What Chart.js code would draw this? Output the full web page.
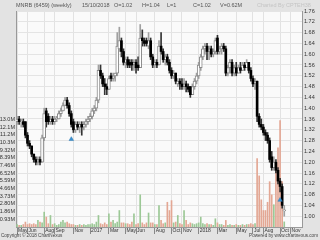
<!DOCTYPE html>
<html>
<head>
<meta charset="utf-8">
<script src="https://cdn.jsdelivr.net/npm/chart.js@4.4.1/dist/chart.umd.min.js"></script>
<style>
  body { margin: 0; background: #e3e3e3; }
  #wrap { position: relative; width: 320px; height: 240px; font-family: "Liberation Sans", Arial, sans-serif; }
  canvas { position: absolute; left: 0; top: 0; }
  .t { position: absolute; font-size: 5.5px; line-height: 1; color: #555; white-space: nowrap; }
  .f { position: absolute; font-size: 4.6px; line-height: 1; color: #444; white-space: nowrap; top: 234px; }
</style>
</head>
<body>
<div id="wrap">
  <canvas id="chart" width="320" height="240"></canvas>
  <div class="t" style="left:16px;top:3px">MNRB (6459) (weekly)</div>
  <div class="t" style="left:82px;top:3px">15/10/2018</div>
  <div class="t" style="left:114px;top:3px">O=1.02</div>
  <div class="t" style="left:142px;top:3px">H=1.04</div>
  <div class="t" style="left:167px;top:3px">L=1</div>
  <div class="t" style="left:193px;top:3px">C=1.02</div>
  <div class="t" style="left:220px;top:3px">V=0.62M</div>
  <div class="t" style="left:257px;top:3px;color:#c4c4c4">Charted By CPTEH38</div>
  <div class="f" style="left:1px">Copyright © 2018 ChartNexus</div>
  <div class="f" style="right:2px">Powered by www.chartnexus.com</div>
</div>
<script>
// weekly axis: first bar is the week of Mon 2 May 2016, axis runs a few weeks past the last bar
const weekStart = [2016, 4, 2];
const weekCount = 137;
const shownMonths = ['2016-05', '2016-06', '2016-08', '2016-09', '2016-11', '2017-01', '2017-03',
  '2017-05', '2017-06', '2017-08', '2017-10', '2017-11', '2018-01', '2018-03', '2018-05',
  '2018-07', '2018-08', '2018-10', '2018-11'];
const monthNames = ['Jan', 'Feb', 'Mar', 'Apr', 'May', 'Jun', 'Jul', 'Aug', 'Sep', 'Oct', 'Nov', 'Dec'];

// OHLC, one value per week (129 weeks up to 15/10/2018)
const open = [
  1.35, 1.36, 1.35, 1.35, 1.35, 1.30, 1.27, 1.26, 1.23, 1.21,
  1.20, 1.21, 1.20, 1.29, 1.39, 1.37, 1.35, 1.36, 1.35, 1.36,
  1.36, 1.38, 1.39, 1.41, 1.43, 1.41, 1.38, 1.35, 1.32, 1.34,
  1.33, 1.34, 1.33, 1.34, 1.35, 1.36, 1.37, 1.39, 1.40, 1.43,
  1.54, 1.52, 1.49, 1.48, 1.47, 1.52, 1.51, 1.52, 1.53, 1.62,
  1.65, 1.61, 1.57, 1.58, 1.57, 1.57, 1.56, 1.57, 1.56, 1.55,
  1.66, 1.65, 1.65, 1.63, 1.65, 1.59, 1.56, 1.57, 1.56, 1.63,
  1.61, 1.58, 1.59, 1.57, 1.54, 1.52, 1.53, 1.49, 1.50, 1.49,
  1.48, 1.49, 1.48, 1.48, 1.45, 1.48, 1.50, 1.52, 1.55, 1.59,
  1.62, 1.63, 1.61, 1.62, 1.60, 1.61, 1.66, 1.61, 1.62, 1.63,
  1.62, 1.53, 1.55, 1.57, 1.53, 1.55, 1.53, 1.55, 1.54, 1.56,
  1.55, 1.57, 1.54, 1.51, 1.49, 1.50, 1.37, 1.34, 1.33, 1.31,
  1.30, 1.28, 1.22, 1.18, 1.20, 1.17, 1.13, 1.11, 1.02
];
const high = [
  1.37, 1.37, 1.36, 1.36, 1.35, 1.31, 1.28, 1.26, 1.23, 1.22,
  1.22, 1.22, 1.30, 1.40, 1.40, 1.38, 1.37, 1.37, 1.37, 1.37,
  1.39, 1.40, 1.42, 1.44, 1.44, 1.42, 1.39, 1.36, 1.35, 1.35,
  1.35, 1.35, 1.35, 1.36, 1.37, 1.38, 1.40, 1.41, 1.44, 1.56,
  1.56, 1.53, 1.51, 1.49, 1.52, 1.53, 1.53, 1.53, 1.68, 1.70,
  1.66, 1.62, 1.59, 1.59, 1.58, 1.58, 1.58, 1.58, 1.59, 1.71,
  1.69, 1.66, 1.66, 1.68, 1.66, 1.60, 1.58, 1.58, 1.65, 1.68,
  1.62, 1.60, 1.60, 1.58, 1.55, 1.54, 1.53, 1.51, 1.51, 1.51,
  1.51, 1.50, 1.49, 1.48, 1.49, 1.51, 1.53, 1.57, 1.60, 1.63,
  1.64, 1.64, 1.63, 1.63, 1.62, 1.66, 1.67, 1.63, 1.64, 1.64,
  1.63, 1.56, 1.58, 1.58, 1.56, 1.57, 1.56, 1.57, 1.57, 1.57,
  1.58, 1.57, 1.55, 1.52, 1.51, 1.50, 1.38, 1.36, 1.34, 1.32,
  1.31, 1.29, 1.24, 1.22, 1.21, 1.18, 1.14, 1.12, 1.04
];
const low = [
  1.34, 1.34, 1.33, 1.33, 1.29, 1.26, 1.25, 1.22, 1.20, 1.19,
  1.19, 1.19, 1.20, 1.28, 1.33, 1.34, 1.34, 1.34, 1.34, 1.35,
  1.36, 1.37, 1.39, 1.41, 1.40, 1.37, 1.33, 1.31, 1.31, 1.32,
  1.31, 1.30, 1.32, 1.33, 1.34, 1.35, 1.36, 1.38, 1.39, 1.42,
  1.51, 1.48, 1.45, 1.45, 1.47, 1.50, 1.50, 1.50, 1.52, 1.61,
  1.59, 1.56, 1.55, 1.55, 1.55, 1.54, 1.54, 1.53, 1.54, 1.55,
  1.63, 1.63, 1.63, 1.62, 1.58, 1.55, 1.55, 1.55, 1.56, 1.60,
  1.57, 1.56, 1.56, 1.53, 1.51, 1.51, 1.49, 1.48, 1.47, 1.47,
  1.47, 1.46, 1.46, 1.44, 1.45, 1.47, 1.49, 1.51, 1.54, 1.58,
  1.60, 1.58, 1.58, 1.59, 1.59, 1.60, 1.60, 1.60, 1.60, 1.61,
  1.52, 1.52, 1.53, 1.52, 1.52, 1.52, 1.53, 1.53, 1.54, 1.54,
  1.55, 1.53, 1.50, 1.48, 1.47, 1.35, 1.33, 1.32, 1.30, 1.28,
  1.27, 1.20, 1.17, 1.17, 1.16, 1.12, 1.09, 1.03, 1.00
];
const close = [
  1.36, 1.35, 1.35, 1.34, 1.30, 1.27, 1.26, 1.23, 1.21, 1.20,
  1.21, 1.20, 1.29, 1.38, 1.35, 1.35, 1.36, 1.35, 1.36, 1.36,
  1.38, 1.39, 1.41, 1.43, 1.41, 1.38, 1.34, 1.32, 1.34, 1.33,
  1.34, 1.33, 1.34, 1.35, 1.36, 1.37, 1.39, 1.40, 1.43, 1.54,
  1.52, 1.49, 1.48, 1.47, 1.51, 1.51, 1.52, 1.53, 1.63, 1.65,
  1.61, 1.57, 1.58, 1.56, 1.56, 1.56, 1.57, 1.55, 1.55, 1.66,
  1.65, 1.64, 1.64, 1.65, 1.59, 1.56, 1.57, 1.56, 1.63, 1.61,
  1.58, 1.59, 1.57, 1.54, 1.52, 1.53, 1.50, 1.50, 1.49, 1.48,
  1.49, 1.48, 1.47, 1.45, 1.48, 1.50, 1.52, 1.56, 1.59, 1.62,
  1.63, 1.61, 1.62, 1.60, 1.61, 1.65, 1.61, 1.62, 1.63, 1.62,
  1.53, 1.55, 1.57, 1.53, 1.55, 1.53, 1.55, 1.54, 1.56, 1.55,
  1.57, 1.54, 1.51, 1.49, 1.50, 1.37, 1.34, 1.33, 1.31, 1.30,
  1.28, 1.21, 1.18, 1.20, 1.17, 1.13, 1.11, 1.04, 1.02
];
// weekly volume, millions
const volume = [
  0.3, 0.2, 0.2, 0.3, 0.6, 0.3, 0.4, 0.3, 0.4, 0.3,
  0.8, 0.6, 0.5, 1.8, 1.2, 0.4, 1.4, 0.3, 0.4, 0.2,
  0.3, 0.6, 0.8, 0.5, 0.6, 0.4, 0.3, 0.3, 0.2, 0.2,
  0.3, 0.2, 0.3, 0.2, 0.3, 0.3, 0.4, 0.3, 0.6, 1.4,
  0.4, 0.3, 0.5, 0.3, 1.6, 0.6, 0.8, 0.4, 0.6, 2.0,
  0.5, 0.5, 0.4, 0.4, 0.3, 0.6, 1.6, 0.3, 0.4, 3.9,
  0.5, 0.3, 0.5, 1.7, 0.5, 0.5, 0.3, 0.3, 2.6, 0.8,
  0.4, 0.5, 3.0, 2.0, 3.2, 0.5, 0.6, 1.4, 0.4, 0.3,
  2.0, 0.8, 0.3, 0.5, 0.4, 0.3, 0.4, 0.5, 1.2, 0.4,
  0.3, 0.4, 0.3, 0.3, 0.2, 1.0, 0.5, 0.3, 0.3, 0.2,
  0.8, 0.2, 0.3, 0.2, 0.2, 0.3, 0.2, 0.2, 0.3, 0.2,
  0.3, 0.3, 0.4, 0.3, 0.4, 8.3, 6.2, 3.3, 2.0, 2.0,
  3.0, 5.5, 3.9, 2.7, 7.8, 9.6, 12.9, 5.5, 0.62
];
// buy/sell signal arrows
const signalWeek = [26, 126];
const signalPrice = [1.285, 1.06];

const weeks = [];
const tickText = [];
for (let i = 0; i < weekCount; i++) {
  const d = new Date(weekStart[0], weekStart[1], weekStart[2] + 7 * i);
  const p = new Date(weekStart[0], weekStart[1], weekStart[2] + 7 * (i - 1));
  const key = d.getFullYear() + '-' + String(d.getMonth() + 1).padStart(2, '0');
  weeks.push(d.getDate() + '/' + (d.getMonth() + 1) + '/' + d.getFullYear());
  const newMonth = i === 0 || p.getMonth() !== d.getMonth();
  if (newMonth && shownMonths.includes(key)) {
    tickText.push(d.getMonth() === 0 ? String(d.getFullYear()) : monthNames[d.getMonth()]);
  } else {
    tickText.push('');
  }
}

const up = close.map((c, i) => c >= open[i]);

// light plot background behind everything
const plotBg = {
  id: 'plotBg',
  beforeDraw(chart) {
    const { ctx, chartArea: a } = chart;
    ctx.save();
    ctx.fillStyle = '#fafafa';
    ctx.fillRect(a.left, a.top, a.right - a.left, a.bottom - a.top);
    ctx.restore();
  }
};

Chart.defaults.font.family = '"Liberation Sans", Arial, sans-serif';
Chart.defaults.font.size = 5.5;
Chart.defaults.color = '#333';

new Chart(document.getElementById('chart').getContext('2d'), {
  type: 'bar',
  data: {
    labels: weeks,
    datasets: [
      {
        type: 'line',
        label: 'Signal',
        data: signalWeek.map((w, k) => ({ x: weeks[w], y: signalPrice[k] })),
        yAxisID: 'price',
        showLine: false,
        pointStyle: 'triangle',
        pointRadius: 2.6,
        backgroundColor: '#3a90d0',
        borderColor: '#2f7ab5',
        borderWidth: 0.5,
        order: 1
      },
      {
        // falling weeks: solid black body
        label: 'Down',
        data: open.map((o, i) => up[i] ? null : [close[i], o]),
        yAxisID: 'price',
        grouped: false,
        barThickness: 2,
        minBarLength: 1,
        backgroundColor: '#000000',
        order: 2
      },
      {
        // rising weeks: hollow body
        label: 'Up',
        data: open.map((o, i) => up[i] ? [o, close[i]] : null),
        yAxisID: 'price',
        grouped: false,
        barThickness: 3,
        minBarLength: 1,
        backgroundColor: '#ffffff',
        borderColor: '#8a8a8a',
        borderWidth: 1,
        borderSkipped: false,
        order: 3
      },
      {
        label: 'Wick',
        data: low.map((l, i) => [l, high[i]]),
        yAxisID: 'price',
        grouped: false,
        barThickness: 1,
        backgroundColor: up.map(u => u ? '#a0a0a0' : '#333333'),
        order: 4
      },
      {
        label: 'Volume',
        data: volume,
        yAxisID: 'vol',
        grouped: false,
        barThickness: 1,
        backgroundColor: up.map(u => u ? '#9cc896' : '#e3a794'),
        order: 5
      }
    ]
  },
  options: {
    responsive: false,
    animation: false,
    devicePixelRatio: 1,
    layout: { padding: { top: 11, bottom: 5, left: 0, right: 0 } },
    plugins: { legend: { display: false }, tooltip: { enabled: false } },
    scales: {
      x: {
        offset: true,
        grid: {
          offset: false,
          color: c => tickText[c.index] ? '#e2e2e2' : 'rgba(0,0,0,0)',
          tickColor: c => tickText[c.index] ? '#888' : 'rgba(0,0,0,0)',
          tickLength: 7
        },
        border: { color: '#999' },
        ticks: {
          autoSkip: false,
          maxRotation: 0,
          minRotation: 0,
          align: 'start',
          labelOffset: 1,
          padding: -6,
          font: { size: 5 },
          callback: (v, i) => tickText[i]
        },
        afterFit: s => { s.height = 8; }
      },
      price: {
        position: 'right',
        min: 0.96,
        max: 1.76,
        grid: { color: '#e4e4e4', drawTicks: false },
        border: { color: '#999' },
        ticks: {
          stepSize: 0.04,
          autoSkip: false,
          padding: 2,
          callback: v => v < 0.98 ? '' : v.toFixed(2)
        },
        afterFit: s => { s.width = 18; }
      },
      vol: {
        position: 'left',
        min: 0,
        max: 26.2,
        grid: { display: false, drawTicks: false },
        border: { color: '#999' },
        ticks: {
          stepSize: 0.932,
          autoSkip: false,
          padding: 1,
          callback: v => (v > 0 && v < 13.1) ? (v < 10 ? v.toFixed(2) : v.toFixed(1)) + 'M' : ''
        },
        afterFit: s => { s.width = 16; }
      }
    }
  },
  plugins: [plotBg]
});
</script>
</body>
</html>
